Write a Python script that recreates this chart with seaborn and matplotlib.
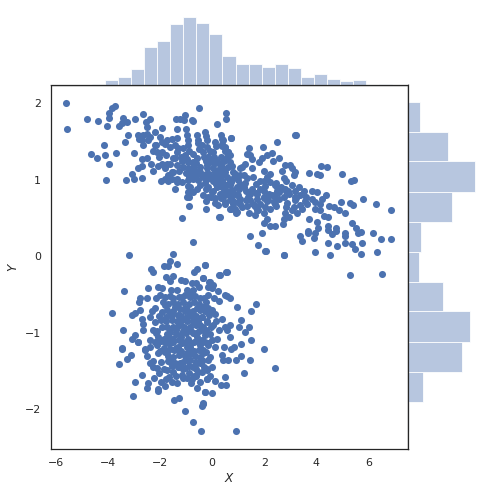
import numpy as np
import matplotlib
matplotlib.use("Agg")
import matplotlib.pyplot as plt
import seaborn as sns

sns.set_theme(style="white")

# upper cluster, values
upper_x = [-5.59,-5.56,-4.79,-4.36,-4.03,-3.96,-3.95,-3.85,-3.74,-3.56,-3.41,-3.44,-3.28,-2.94,-2.64,-2.38,-2.54,-2.49,-1.91,-2.19,
    -1.40,-1.23,-1.03,-1.08,-0.78,-0.72,-0.49,-1.33,-1.00,0.18,0.53,0.55,-3.22,-3.33,-2.83,-2.79,-2.64,-2.49,-2.38,-2.70,
    -2.45,-2.00,-1.94,-1.74,-1.55,-1.36,-0.97,-0.91,-0.59,-0.27,-0.24,0.33,0.41,0.71,-4.13,-2.64,-2.15,-1.81,-4.64,-4.41,
    -4.10,-3.67,-3.95,-2.99,-2.70,-2.51,-2.36,-2.70,-2.83,-2.26,-3.09,-2.99,-2.70,-3.32,-4.06,-1.97,-1.41,
    -2.26,-2.13,-2.19,-1.94,-1.62,-1.42,-1.29,-1.10,-1.36,-1.04,-0.74,-1.42,-1.17,-0.91,-0.72,-0.53,-0.40,-0.21,-0.08,
    0.05,-0.33,-0.14,-0.01,0.18,0.31,0.50,0.63,0.69,0.56,0.50,-1.94,-1.74,-2.06,-1.81,-1.62,-1.36,-1.10,-0.91,-0.72,
    -0.46,-0.21,0.05,0.24,0.37,0.50,0.88,1.08,-1.81,-1.68,-1.49,-1.55,-1.36,-1.68,-1.36,-1.17,-0.91,-0.72,-0.65,-0.33,
    -0.21,0.05,0.24,0.37,0.56,0.76,0.95,1.08,-0.14,-0.01,0.18,0.37,0.69,0.95,1.08,-0.46,-0.85,-0.91,-0.72,-0.97,-0.88,
    0.31,0.50,0.69,0.95,-0.24,0.12,0.24,0.50,0.69,0.88,1.01,-0.87,-0.22,0.72,0.92,-1.17,0.28,
    3.23,3.19,2.49,1.94,0.71,1.40,1.34,1.46,1.53,2.30,2.10,1.91,1.81,2.55,2.32,1.27,1.14,1.55,2.81,3.00,2.68,3.07,3.19,
    3.13,2.75,1.98,2.23,2.10,1.85,0.89,1.21,1.59,3.71,4.03,4.16,4.17,4.41,4.98,5.34,5.46,5.80,6.28,6.86,4.94,5.31,5.41,
    4.48,4.67,4.86,5.09,4.36,4.22,3.84,4.03,3.84,3.96,4.16,3.96,4.16,4.28,4.44,3.71,4.03,5.36,4.44,4.44,4.05,3.96,3.67,
    3.67,3.39,3.44,3.93,4.75,4.75,4.62,5.12,5.09,5.54,5.59,5.72,6.18,6.48,6.86,4.44,4.78,5.09,5.37,5.49,5.75,5.71,6.32,
    3.94,4.52,2.75,2.07,1.75,1.44,1.90,5.30,6.52,0.55,0.31,1.98,2.10,1.98,2.23,2.43,2.71,2.75,2.94,
    2.81,3.07,3.26,3.45,3.64,3.39,3.19,3.39,3.52,3.32,3.07,2.94,2.75,2.55,2.36,2.23,2.43,2.17,1.98,1.85,1.66,1.40,0.95,
    0.69,1.14,1.46,1.72,1.53,1.21,1.02,0.82,0.57,0.37,0.50,0.69,1.08,0.50,0.31,1.98,2.23,2.43,2.62,2.30,2.55,1.85,1.59,
    0.37,0.37,0.50,0.63,0.57,0.44,0.69,0.63,0.31,
    -0.30,-0.12,0.10,-0.45,-0.60,-0.25,0.00,0.22,0.40,0.15,-0.05,-0.35,0.60,0.80,1.25,1.70,2.00,2.40,2.65,2.90,1.65,1.30,
    0.95,0.75,2.15,2.50,2.85,3.20,1.75,1.45]
upper_y = [2.01,1.66,1.79,1.77,1.71,1.88,1.81,1.94,1.96,1.71,1.81,1.74,1.75,1.80,1.86,1.80,1.76,1.69,1.68,1.62,
    1.80,1.79,1.85,1.78,1.78,1.77,1.94,1.67,1.66,1.73,1.88,1.80,1.58,1.50,1.59,1.54,1.58,1.60,1.56,1.52,
    1.52,1.56,1.49,1.52,1.54,1.55,1.58,1.52,1.58,1.62,1.57,1.59,1.52,1.55,1.46,1.45,1.45,1.47,1.34,1.28,
    1.32,1.35,1.21,1.35,1.27,1.29,1.21,1.18,1.15,1.12,1.08,1.01,1.03,1.00,1.00,0.98,0.88,
    1.38,1.36,1.45,1.36,1.43,1.45,1.41,1.41,1.36,1.32,1.34,1.29,1.25,1.23,1.23,1.52,1.45,1.43,1.38,
    1.36,1.36,1.30,1.23,1.25,1.21,1.38,1.36,1.32,1.28,1.43,1.21,1.21,1.18,1.15,1.21,1.19,1.17,1.15,1.17,
    1.17,1.15,1.15,1.12,1.17,1.10,1.08,1.15,1.01,1.06,1.10,1.01,1.01,0.99,0.97,0.97,1.00,1.01,1.06,1.04,
    1.01,0.99,1.01,0.99,1.04,1.01,1.04,1.06,0.91,0.84,0.91,0.91,0.93,0.91,0.95,0.93,0.91,0.84,0.84,0.78,0.77,
    0.82,0.80,0.80,0.82,0.72,0.70,0.67,0.69,0.73,0.62,0.71,0.66,0.62,0.62,0.57,0.50,0.51,
    1.59,1.58,1.49,1.43,1.55,1.41,1.34,1.32,1.27,1.35,1.33,1.28,1.23,1.29,1.24,1.21,1.17,1.15,1.19,1.19,1.12,1.15,1.10,
    1.06,1.02,1.12,1.08,1.04,0.99,1.08,1.06,1.04,1.09,1.08,1.06,1.18,1.17,1.07,0.99,1.00,0.75,0.69,0.60,0.71,0.70,0.67,
    0.66,0.64,0.61,0.57,0.80,0.75,0.86,0.84,0.75,0.71,0.69,0.62,0.60,0.53,0.51,0.49,0.45,0.44,0.40,0.35,0.37,0.31,0.33,
    0.30,0.27,0.20,0.24,0.37,0.33,0.29,0.31,0.27,0.37,0.31,0.32,0.30,0.23,0.23,0.17,0.14,0.17,0.16,0.09,0.18,0.03,0.06,
    0.05,0.02,0.02,0.07,0.15,0.27,0.31,-0.24,-0.23,-0.20,-0.25,0.56,0.49,0.44,0.40,0.40,0.42,0.49,0.51,
    0.56,0.60,0.56,0.62,0.69,0.67,0.73,0.80,0.86,0.91,0.93,0.82,0.78,0.75,0.71,0.62,0.69,0.82,0.78,0.69,0.54,0.56,0.58,
    0.62,0.64,0.73,0.82,0.88,0.91,0.88,0.82,0.86,0.99,0.93,0.97,0.75,0.71,0.51,0.99,0.97,0.93,0.88,0.80,0.84,0.88,0.69,
    1.54,1.47,1.41,1.36,1.30,1.25,1.23,1.17,1.15,
    1.30,1.26,1.10,1.08,1.12,1.08,1.03,1.05,1.10,0.96,0.77,0.80,0.94,0.72,0.96,0.83,0.76,0.73,0.90,0.85,0.66,0.74,
    0.80,0.86,0.74,0.90,0.86,0.78,0.60,0.82]

# points in the solid part of the upper band
band_x = [-2.05,-1.75,-1.50,-1.20,-1.55,-1.25,-1.00,
    -0.92,-0.88,-0.95,-0.85,-0.90,-0.94,
    -0.55,-0.50,-0.58,-0.60,-0.48,-0.53,-0.57,
    -0.20,-0.16,-0.24,-0.18,-0.12,-0.28,-0.22,-0.15,
    0.10,0.14,0.06,0.12,0.08,0.16,0.04,0.11,
    0.40,0.36,0.44,0.38,0.42,0.46,0.34,
    0.75,0.79,0.71,0.77,0.73,0.81,
    1.00,1.04,0.98,1.06,
    1.35,1.31,1.39,1.33,
    1.70,1.74,1.66,1.72,
    2.05,2.01,2.09,2.03,
    2.45,2.49,2.41,2.47,
    2.85,2.81,2.89,2.83,
    3.20,3.24,3.16,
    3.60,3.56]
band_y = [1.30,1.32,1.28,1.30,1.10,1.12,1.09,
    1.45,1.38,1.27,1.10,1.04,0.92,
    1.48,1.40,1.28,1.22,1.10,1.00,0.88,
    1.52,1.30,1.25,1.20,1.08,0.96,0.88,0.78,
    1.50,1.44,1.30,1.22,1.04,0.95,0.86,0.76,
    1.44,1.30,1.12,1.06,0.94,0.86,0.76,
    1.18,1.10,0.97,0.87,0.76,0.68,
    1.00,0.90,0.80,0.68,
    1.02,0.85,0.78,0.66,
    0.94,0.75,0.66,0.60,
    0.92,0.85,0.72,0.64,
    0.96,0.86,0.80,0.66,
    0.98,0.88,0.70,0.64,
    0.86,0.76,0.64,
    0.78,0.72]

# lower cluster
lower_x = [-0.75,-3.18,-1.48,-1.60,-1.84,-1.68,-1.36,-2.34,-2.25,-0.28,-0.59,-0.69,-1.77,-1.48,-1.61,-1.20,-1.04,-0.78,-0.36,-0.10,
    -0.50,-0.14,-2.45,-3.37,-2.09,-1.91,-1.59,-1.33,-0.97,-0.72,-2.51,-2.78,-2.79,-2.16,-2.00,-1.80,-1.48,-1.16,-0.84,-0.46,
    -0.14,-3.83,-3.09,-2.96,-2.77,-2.70,-2.66,-3.41,-2.64,-3.09,-2.96,-2.83,-3.47,-2.32,-2.19,-2.38,-2.19,-1.93,-1.80,-1.61,
    -1.42,-1.29,-1.04,-0.84,-0.59,-0.27,-2.25,-1.93,-2.06,-1.74,-1.48,-1.23,-0.97,-0.72,-0.46,-0.20,-2.38,-2.13,-1.80,-1.48,
    -1.23,-0.91,-0.59,-0.27,-2.58,-1.61,-1.29,-0.84,-0.46,-0.14,
    -3.47,-3.28,-3.10,-3.56,-2.83,-2.57,-2.48,-2.38,-2.25,-2.68,-2.95,-3.02,-2.45,-2.51,-2.22,-2.02,-1.97,-2.09,-2.06,-1.77,
    -1.80,-1.55,-1.36,-1.45,-1.25,-0.97,-0.81,-0.78,-0.46,-0.56,-0.27,-0.33,-0.37,-1.02,-0.75,-0.41,-0.20,-2.06,-1.80,-1.61,
    -1.48,-1.74,-1.23,-0.97,-0.72,-0.53,-0.20,-0.84,-1.29,-0.33,-0.14,
    2.05,2.75,-0.29,0.57,0.25,-0.36,-0.08,0.05,-0.01,0.21,0.48,0.57,0.69,0.28,0.08,0.94,1.67,1.48,0.40,1.10,1.03,1.41,1.27,
    0.67,0.50,0.57,0.67,1.48,1.98,1.10,0.86,0.72,0.44,0.37,0.63,0.41,1.10,0.92,1.44,2.40,1.21,0.50,0.33,0.53,0.12,-0.20,
    -0.01,-0.27,-0.33,0.90,-0.33,-0.14,0.12,-0.40,-0.20,0.05,0.25,-0.33,-0.08,0.18,-0.40,-0.14,0.12,-0.33,-0.08,-0.40,-0.01,
    -0.20,-0.40,-0.08,
    -1.90,-1.70,-1.50,-1.30,-1.10,-0.90,-0.70,-0.50,-1.95,-1.75,-1.55,-1.35,-1.15,-0.95,-0.75,-0.55,-1.85,-1.65,-1.40,-1.20,
    -1.00,-0.80,-0.60,-1.85,-1.60,-1.40,-1.15,-0.95,-0.70,-0.50,-1.70,-1.50,-1.25,-1.05,-0.85,-0.65,-0.45,-1.55,-1.30,-1.10,
    -0.90,-0.65,-0.45,-1.40,-1.15,-0.90,-0.70,-2.15,-2.40,-2.25,-1.05,-0.85,-0.60,-0.25,0.00,0.15]
lower_y = [0.19,0.02,0.03,-0.06,-0.13,-0.13,-0.10,-0.17,-0.21,-0.12,-0.16,-0.21,-0.27,-0.26,-0.32,-0.31,-0.32,-0.35,-0.29,-0.34,
    -0.40,-0.40,-0.41,-0.46,-0.40,-0.41,-0.44,-0.44,-0.44,-0.44,-0.55,-0.55,-0.60,-0.54,-0.51,-0.53,-0.55,-0.53,-0.53,-0.55,
    -0.51,-0.74,-0.77,-0.74,-0.70,-0.82,-0.88,-0.97,-0.97,-1.08,-1.03,-1.12,-1.20,-0.71,-0.68,-0.79,-0.86,-0.73,-0.64,-0.77,
    -0.66,-0.77,-0.68,-0.77,-0.68,-0.71,-0.97,-0.92,-1.05,-1.01,-0.92,-0.88,-0.95,-0.86,-0.90,-0.84,-1.10,-1.16,-1.12,-1.08,
    -1.03,-1.08,-1.05,-1.03,-1.21,-1.21,-1.19,-1.19,-1.16,-1.14,
    -1.21,-1.34,-1.29,-1.41,-1.12,-1.22,-1.31,-1.40,-1.37,-1.55,-1.64,-1.83,-1.66,-1.72,-1.59,-1.53,-1.65,-1.73,-1.76,-1.61,
    -1.69,-1.64,-1.66,-1.88,-1.85,-1.59,-1.66,-1.61,-1.64,-1.72,-1.78,-1.92,-1.96,-2.02,-2.17,-2.28,-1.60,-1.27,-1.25,-1.38,
    -1.51,-1.49,-1.40,-1.36,-1.45,-1.51,-1.47,-1.27,-1.23,-1.27,-1.36,
    0.07,0.02,-0.12,-0.20,-0.25,-0.29,-0.34,-0.38,-0.42,-0.46,-0.50,-0.52,-0.55,-0.58,-0.55,-0.66,-0.63,-0.71,-0.82,-0.83,-0.92,
    -0.93,-0.99,-0.90,-0.92,-0.97,-1.06,-1.09,-1.21,-1.15,-1.18,-1.21,-1.19,-1.29,-1.36,-1.35,-1.31,-1.35,-1.36,-1.46,-1.52,
    -1.58,-1.68,-1.68,-1.63,-1.60,-1.79,-1.78,-1.93,-2.29,-0.66,-0.68,-0.75,-0.79,-0.86,-0.90,-0.97,-0.97,-1.01,-1.08,-1.10,
    -1.16,-1.19,-1.23,-1.32,-1.36,-1.45,-1.49,-1.51,-1.56,
    -0.60,-0.62,-0.60,-0.62,-0.60,-0.62,-0.60,-0.62,-0.83,-0.84,-0.83,-0.84,-0.83,-0.84,-0.83,-0.84,-1.08,-1.06,-1.02,-1.05,
    -1.00,-0.98,-1.00,-1.20,-1.14,-1.20,-1.13,-1.18,-1.12,-1.10,-1.30,-1.32,-1.29,-1.31,-1.28,-1.30,-1.32,-1.43,-1.45,-1.48,
    -1.44,-1.42,-1.40,-1.56,-1.55,-1.52,-1.56,-1.00,-1.18,-1.45,-0.72,-0.48,-0.35,-0.60,-0.70,-0.85]

# points in the solid core of the lower cluster
core_x = [-1.72,-1.50,-1.22,-0.98,-0.72,-0.45,-0.18,
    -2.02,-1.78,-1.52,-1.18,-0.95,-0.62,-0.38,-0.10,
    -1.72,-1.30,-1.08,-0.85,-0.60,-0.35,-0.05,
    -2.10,-1.62,-1.38,-1.12,-0.75,-0.52,-0.22,
    -2.20,-1.95,-1.68,-1.50,-1.25,-1.02,-0.80,-0.55,-0.28,-0.02,
    -2.00,-1.72,-1.45,-1.18,-0.95,-0.70,-0.52,-0.22,
    -1.95,-1.68,-1.42,-1.10,-0.85,-0.60,-0.40,
    -2.10,-1.85,-1.28,-1.02,-0.62,-0.32,
    -1.62,-1.25,-1.02,-0.65,-0.30,
    -1.65,-1.12,-0.62]
core_y = [-0.70,-0.71,-0.69,-0.70,-0.72,-0.70,-0.69,
    -0.78,-0.79,-0.77,-0.78,-0.80,-0.78,-0.79,-0.77,
    -0.92,-0.91,-0.93,-0.92,-0.90,-0.92,-0.93,
    -0.98,-0.99,-0.97,-0.98,-1.00,-0.98,-0.97,
    -1.12,-1.11,-1.13,-1.12,-1.10,-1.12,-1.13,-1.11,-1.12,-1.10,
    -1.24,-1.25,-1.23,-1.24,-1.26,-1.24,-1.23,-1.25,
    -1.38,-1.37,-1.39,-1.38,-1.36,-1.38,-1.37,
    -1.46,-1.47,-1.45,-1.46,-1.48,-1.45,
    -0.52,-0.53,-0.51,-0.52,-0.54,
    -1.58,-1.59,-1.57]

# marginal histogram values
x_edges = [-5.60,-5.10,-4.60,-4.10,-3.60,-3.10,-2.60,-2.10,-1.60,-1.10,-0.60,-0.10,0.40,0.90,1.40,1.90,2.40,2.90,3.40,3.90,4.40,4.90,5.40,5.90,6.40,6.90]
x_counts = [1,1,3,11,19,38,88,102,142,158,144,118,68,48,48,42,48,40,19,25,15,10,12,0,3]
y_edges = [-2.29,-1.90,-1.51,-1.12,-0.72,-0.33,0.06,0.45,0.84,1.24,1.63,2.02]
y_counts = [4,52,183,209,118,38,45,148,226,135,41]

xs = upper_x + band_x + lower_x + core_x
ys = upper_y + band_y + lower_y + core_y

g = sns.JointGrid(height=6.82)
g.figure.set_size_inches(491/72, 492/72)

sns.scatterplot(x=xs, y=ys, ax=g.ax_joint, s=50, color="#4c72b0", linewidth=0, alpha=1)

x_mid = (np.array(x_edges[:-1]) + np.array(x_edges[1:])) / 2
y_mid = (np.array(y_edges[:-1]) + np.array(y_edges[1:])) / 2
sns.histplot(x=x_mid, weights=x_counts, bins=x_edges, ax=g.ax_marg_x, color="#4c72b0", alpha=0.4, edgecolor="white", linewidth=0.8)
sns.histplot(y=y_mid, weights=y_counts, bins=y_edges, ax=g.ax_marg_y, color="#4c72b0", alpha=0.4, edgecolor="white", linewidth=0.8)

g.ax_joint.set_xlim(-6.2, 7.5)
g.ax_joint.set_ylim(-2.52, 2.24)
g.ax_joint.set_xticks([-6, -4, -2, 0, 2, 4, 6])
g.ax_joint.set_yticks([-2, -1, 0, 1, 2])
g.ax_joint.set_xlabel("$X$", fontsize=12)
g.ax_joint.set_ylabel("$Y$", fontsize=12, labelpad=5)
g.ax_joint.tick_params(labelsize=11)
for s in g.ax_joint.spines.values():
    s.set_visible(True)
    s.set_linewidth(1.25)
    s.set_color(".15")

g.ax_marg_x.set_ylim(0, 169)
g.ax_marg_y.set_xlim(0, 244)

W, H = 491, 492
g.ax_joint.set_position([50.5/W, (H-449)/H, 357/W, 364/H])
g.ax_marg_x.set_position([50.5/W, (H-85)/H, 357/W, 73/H])
g.ax_marg_y.set_position([407.5/W, (H-449)/H, 73/W, 364/H])

plt.savefig("out.png", dpi=72)
